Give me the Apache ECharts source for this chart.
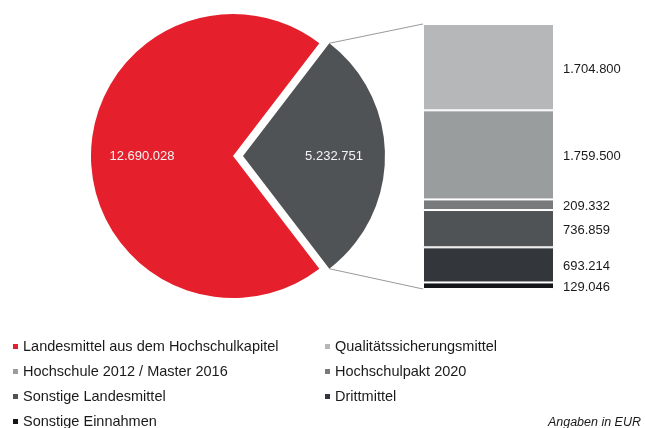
<!DOCTYPE html>
<html>
<head>
<meta charset="utf-8">
<script src="https://cdn.jsdelivr.net/npm/echarts@6/dist/echarts.min.js"></script>
<style>
  html, body { margin: 0; padding: 0; background: #fff; }
  #chart { width: 645px; height: 428px; }
</style>
</head>
<body>
<div id="chart"></div>
<script>
// Kreis: erst das herausgezogene Stück, dann Landesmittel
const pieNames = ['Übrige Mittel', 'Landesmittel aus dem Hochschulkapitel'];
const pieValues = [5232751, 12690028];
const pieColors = ['#505356', '#e5202c'];

// Aufteilung des herausgezogenen Stücks (von oben nach unten)
const barNames = ['Qualitätssicherungsmittel', 'Hochschule 2012 / Master 2016', 'Hochschulpakt 2020',
  'Sonstige Landesmittel', 'Drittmittel', 'Sonstige Einnahmen'];
const barValues = [1704800, 1759500, 209332, 736859, 693214, 129046];
const barColors = ['#b6b7b9', '#9a9d9e', '#77797b', '#505356', '#33363a', '#141619'];

// Legende in zwei Spalten
const legendLeft = ['Landesmittel aus dem Hochschulkapitel', 'Hochschule 2012 / Master 2016',
  'Sonstige Landesmittel', 'Sonstige Einnahmen'];
const legendRight = ['Qualitätssicherungsmittel', 'Hochschulpakt 2020', 'Drittmittel'];

const fmt = v => String(v).replace(/\B(?=(\d{3})+(?!\d))/g, '.');

const center = [233, 156];
const radius = 142;
const offset = 10;
const pieTotal = pieValues.reduce((a, b) => a + b, 0);
const barTotal = barValues.reduce((a, b) => a + b, 0);
const halfAngle = 180 * pieValues[0] / pieTotal;   // Stück mittig nach rechts

const chart = echarts.init(document.getElementById('chart'));

const pieData = pieNames.map((n, i) => ({
  name: n,
  value: pieValues[i],
  selected: i === 0,
  itemStyle: { color: pieColors[i] }
}));

const legendBase = {
  orient: 'vertical',
  top: 338,
  height: 100,
  padding: 0,
  itemWidth: 5,
  itemHeight: 5,
  itemGap: 8,
  icon: 'rect',
  selectedMode: false,
  itemStyle: { borderWidth: 0 },
  textStyle: { fontFamily: 'Liberation Sans', fontSize: 14.5, color: '#1a1a1a', lineHeight: 17 }
};

const option = {
  animation: false,
  backgroundColor: '#fff',
  legend: [
    Object.assign({}, legendBase, { left: 13, data: legendLeft }),
    Object.assign({}, legendBase, { left: 325, data: legendRight })
  ],
  grid: { left: 423, top: 24, width: 131, height: 265 },
  xAxis: { type: 'category', data: [''], show: false },
  yAxis: { type: 'value', inverse: true, min: 0, max: barTotal, show: false },
  series: [
    {
      type: 'pie',
      center: center,
      radius: radius,
      startAngle: halfAngle,
      selectedMode: 'single',
      selectedOffset: offset,
      silent: true,
      emphasis: { disabled: true },
      label: { show: false },
      labelLine: { show: false },
      data: pieData
    },
    {
      // nur für die Beschriftung im Kreis
      type: 'pie',
      center: center,
      radius: 176,
      startAngle: halfAngle,
      selectedMode: 'single',
      selectedOffset: offset,
      silent: true,
      emphasis: { disabled: true },
      itemStyle: { color: 'rgba(0,0,0,0)' },
      label: {
        show: true,
        position: 'inside',
        formatter: p => fmt(p.value),
        color: '#f4f4f4',
        fontFamily: 'Liberation Sans',
        fontSize: 13
      },
      labelLine: { show: false },
      data: pieNames.map((n, i) => ({ name: n, value: pieValues[i], selected: i === 0 })),
      z: 3
    }
  ].concat(barNames.map((n, i) => ({
    name: n,
    type: 'bar',
    stack: 'rest',
    barWidth: '100%',
    silent: true,
    itemStyle: { color: barColors[i], borderColor: '#fff', borderWidth: 1 },
    label: {
      show: true,
      position: 'right',
      distance: 9,
      offset: [0, 2],
      formatter: p => fmt(p.value),
      fontFamily: 'Liberation Sans',
      fontSize: 13,
      color: '#1a1a1a'
    },
    data: [barValues[i]]
  }))),
  graphic: [{
    type: 'text',
    right: 4,
    top: 416,
    style: {
      text: 'Angaben in EUR',
      font: 'italic 12.5px "Liberation Sans"',
      fill: '#1a1a1a'
    }
  }]
};

chart.setOption(option);

// Verbindungslinien vom Kreisstück zum Balken
const a = halfAngle * Math.PI / 180;
const apexX = center[0] + offset;
const topCorner = [apexX + radius * Math.cos(a), center[1] - radius * Math.sin(a)];
const botCorner = [apexX + radius * Math.cos(a), center[1] + radius * Math.sin(a)];
const barTop = chart.convertToPixel({ xAxisIndex: 0, yAxisIndex: 0 }, [0, 0]);
const barBot = chart.convertToPixel({ xAxisIndex: 0, yAxisIndex: 0 }, [0, barTotal]);
const barLeft = option.grid.left;

chart.setOption({
  graphic: [
    option.graphic[0],
    {
      type: 'line',
      shape: { x1: topCorner[0], y1: topCorner[1], x2: barLeft, y2: barTop[1] },
      style: { stroke: '#9a9a9a', lineWidth: 1 },
      silent: true
    },
    {
      type: 'line',
      shape: { x1: botCorner[0], y1: botCorner[1], x2: barLeft, y2: barBot[1] },
      style: { stroke: '#9a9a9a', lineWidth: 1 },
      silent: true
    }
  ]
});
</script>
</body>
</html>
